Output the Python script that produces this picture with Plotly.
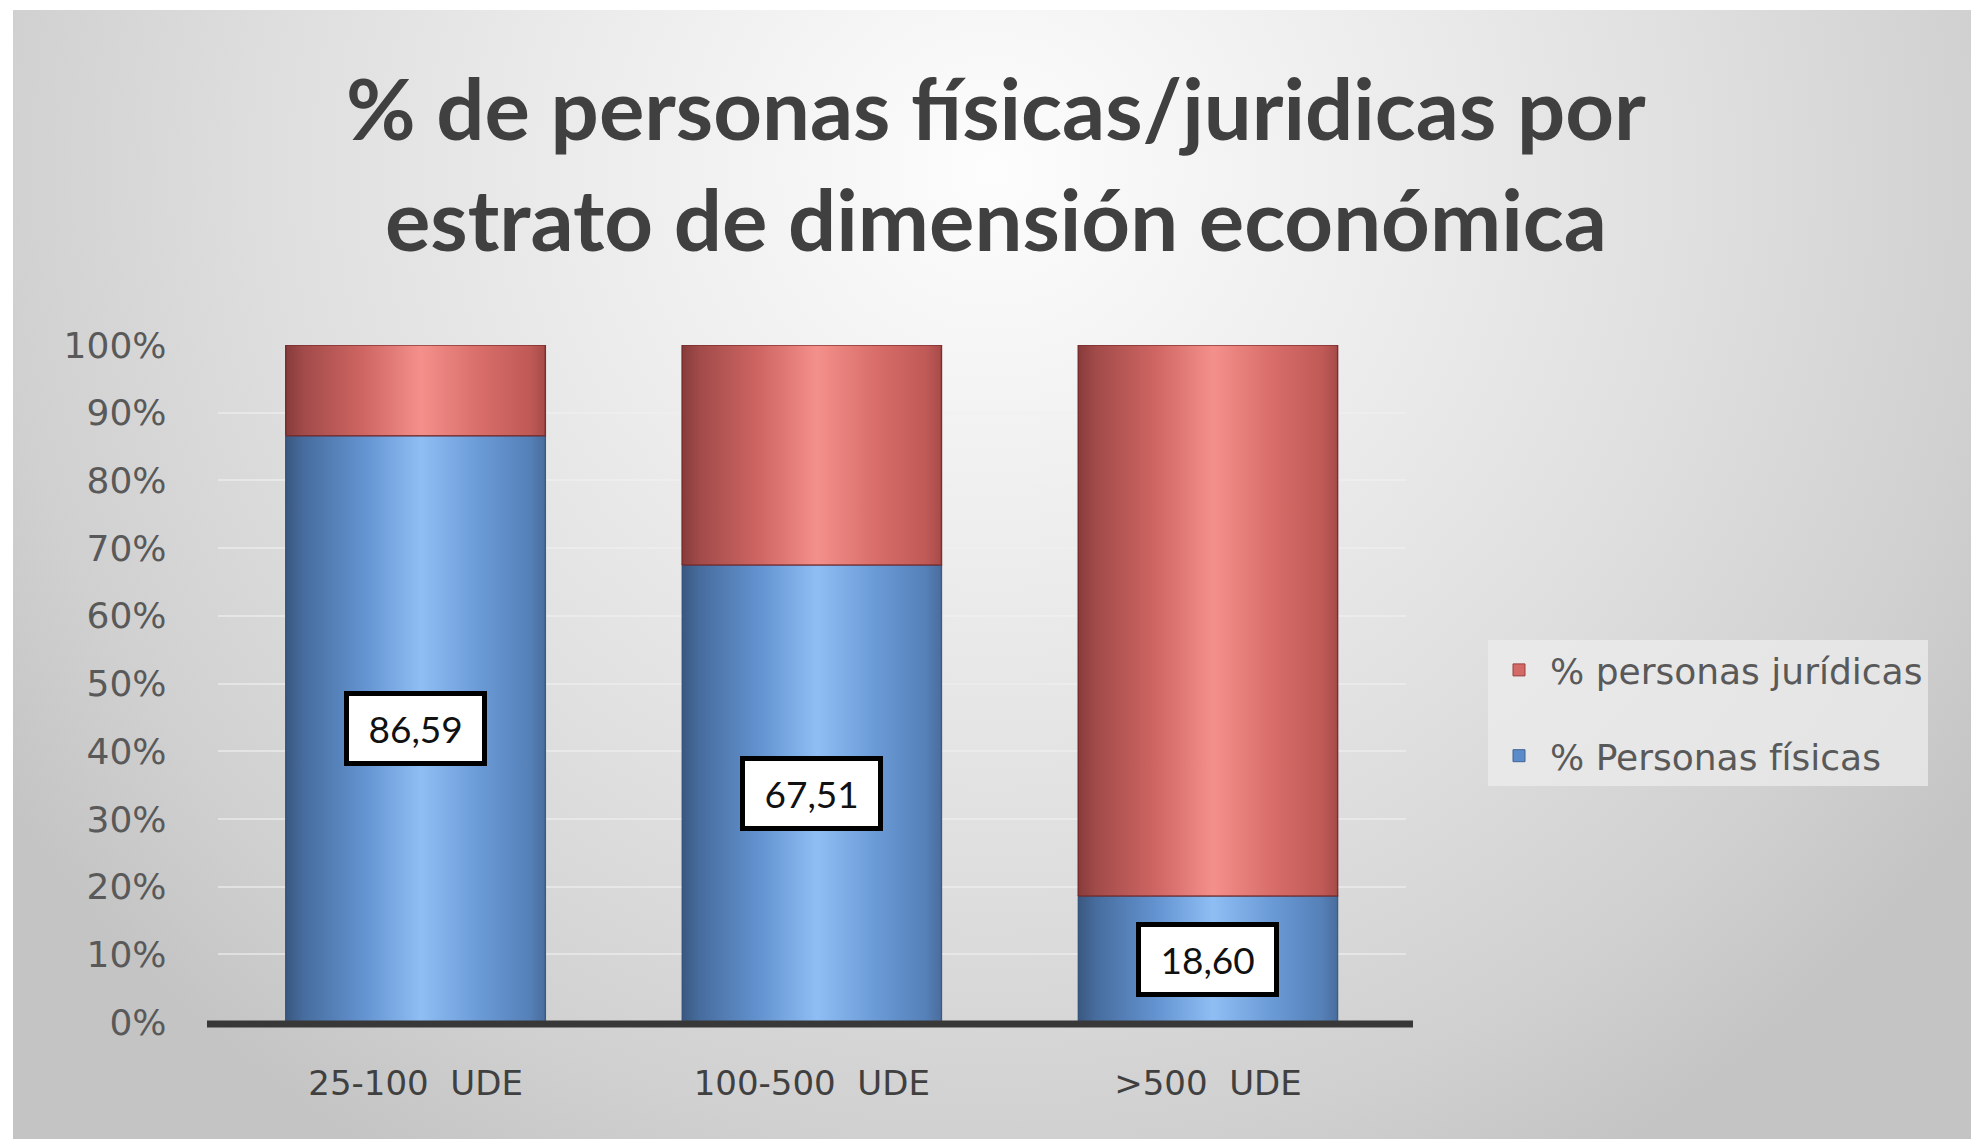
import plotly.graph_objects as go

# ---------------- data ----------------
categories = ["25-100  UDE", "100-500  UDE", ">500  UDE"]
fisicas = [86.59, 67.51, 18.60]
juridicas = [13.41, 32.49, 81.40]
name_fisicas = "% Personas físicas"
name_juridicas = "% personas jurídicas"
y_tick_values = [0, 10, 20, 30, 40, 50, 60, 70, 80, 90, 100]
title_text = "% de personas físicas/juridicas por<br>estrato de dimensión económica"

# ---------------- styling ----------------
W, H = 1984, 1145
OFF = 8  # page body margin
BAR_W = 0.655
blue_mid = "#5b8bc8"
red_mid = "#d46a66"
blue_scale = [[0, "#3a5880"], [0.07, "#476d9f"], [0.3, "#6393d0"], [0.52, "#8fbef4"],
              [0.75, "#6a9ad6"], [0.94, "#5580b8"], [1, "#4a6d9c"]]
red_scale = [[0, "#873b3b"], [0.07, "#a24b4a"], [0.3, "#cf6663"], [0.52, "#f4908b"],
             [0.75, "#d86d69"], [0.94, "#c05a57"], [1, "#a64b49"]]


def px_x(p):  # screen x -> paper fraction
    return (p - OFF) / W


def px_y(p):  # screen y (from top) -> paper fraction
    return (H - (p - OFF)) / H


fig = go.Figure()

# background panel (radial light gradient) on a hidden full-frame axis pair
fx0, fx1, fy0, fy1 = 13, 1971, 10, 1139
cx, cy = 992, H - 170
rx, ry = 1180, 1150
fig.add_trace(go.Scatter(
    x=[cx - rx, cx + rx, cx + rx, cx - rx, cx - rx],
    y=[cy - ry, cy - ry, cy + ry, cy + ry, cy - ry],
    mode="lines", line=dict(width=0), fill="toself",
    fillgradient=dict(type="radial",
                      colorscale=[[0, "#fdfdfd"], [0.35, "#ececec"], [0.6, "#dfdfdf"],
                                  [0.85, "#d0d0d0"], [1, "#c4c4c4"]]),
    hoverinfo="skip", showlegend=False, xaxis="x", yaxis="y",
))

x_idx = list(range(len(categories)))

# stacked bars
fig.add_trace(go.Bar(x=x_idx, y=fisicas, name=name_fisicas, width=BAR_W,
                     marker=dict(color=blue_mid, line=dict(width=1, color="#3f6494")),
                     legendgroup="f", legendrank=2, xaxis="x2", yaxis="y2"))
fig.add_trace(go.Bar(x=x_idx, y=juridicas, base=fisicas, name=name_juridicas, width=BAR_W,
                     marker=dict(color=red_mid, line=dict(width=1, color="#9a4040")),
                     legendgroup="j", legendrank=1, xaxis="x2", yaxis="y2"))

# cylinder-like shading drawn over each bar segment (derived from the data)
for i, (f, j) in enumerate(zip(fisicas, juridicas)):
    x0, x1 = i - BAR_W / 2, i + BAR_W / 2
    for base, top, scale, lc in [(0, f, blue_scale, "rgba(50,80,120,0.55)"),
                                 (f, f + j, red_scale, "rgba(115,40,40,0.8)")]:
        fig.add_trace(go.Scatter(
            x=[x0, x1, x1, x0, x0], y=[base, base, top, top, base],
            mode="lines", line=dict(width=1.5, color=lc), fill="toself",
            fillgradient=dict(type="horizontal", start=x0, stop=x1, colorscale=scale),
            hoverinfo="skip", showlegend=False, xaxis="x2", yaxis="y2",
        ))

# data labels
annotations = []
for i, f in enumerate(fisicas):
    annotations.append(dict(
        x=i, y=f / 2, xref="x2", yref="y2",
        text=" " + f"{f:.2f}".replace(".", ",") + " ",
        showarrow=False, font=dict(family="Lato", size=37, color="#111111"),
        bgcolor="white", bordercolor="black", borderwidth=5, borderpad=10,
    ))

annotations.append(dict(
    x=px_x(996), y=px_y(54), xref="paper", yref="paper", xanchor="center", yanchor="top",
    text="<b>" + title_text + "</b>", showarrow=False,
    font=dict(family="Lato", size=85, color="#404040"),
))

# thick dark floor line under the bars
shapes = [dict(type="line", xref="paper", yref="paper",
               x0=px_x(207), x1=px_x(1413), y0=px_y(1024), y1=px_y(1024),
               line=dict(color="#383838", width=7), layer="above")]

fig.update_layout(
    width=W, height=H, autosize=False,
    margin=dict(l=0, r=0, t=0, b=0, autoexpand=False),
    paper_bgcolor="white", plot_bgcolor="rgba(0,0,0,0)",
    barmode="stack", bargap=0,
    showlegend=True,
    legend=dict(x=px_x(1488), y=px_y(640), xanchor="left", yanchor="top",
                bgcolor="rgba(236,236,236,0.75)", borderwidth=0,
                traceorder="grouped", tracegroupgap=36, itemwidth=52,
                font=dict(family="DejaVu Sans", size=36, color="#595959")),
    xaxis=dict(domain=[px_x(fx0), px_x(fx1)], range=[fx0, fx1], visible=False,
               fixedrange=True, anchor="y", automargin=False),
    yaxis=dict(domain=[px_y(fy1), px_y(fy0)], range=[H - fy1, H - fy0], visible=False,
               fixedrange=True, anchor="x", automargin=False),
    xaxis2=dict(domain=[px_x(217.5), px_x(1406)], range=[-0.5, 2.5], anchor="y2",
                tickmode="array", tickvals=x_idx, ticktext=categories,
                showgrid=False, zeroline=False, showline=False, automargin=False,
                ticks="", ticklabelstandoff=38,
                tickfont=dict(family="DejaVu Sans", size=34, color="#404040")),
    yaxis2=dict(domain=[px_y(1022), px_y(345)], range=[0, 100], anchor="x2",
                tickmode="array", tickvals=y_tick_values,
                ticktext=[f"{v}%" for v in y_tick_values], automargin=False,
                showgrid=True, gridcolor="rgba(240,240,240,0.6)", gridwidth=2,
                zeroline=False, showline=False, ticks="", ticklabelstandoff=50,
                tickfont=dict(family="DejaVu Sans", size=36, color="#595959")),
    annotations=annotations,
    shapes=shapes,
)

fig.write_html("out.html", config={"responsive": False})
